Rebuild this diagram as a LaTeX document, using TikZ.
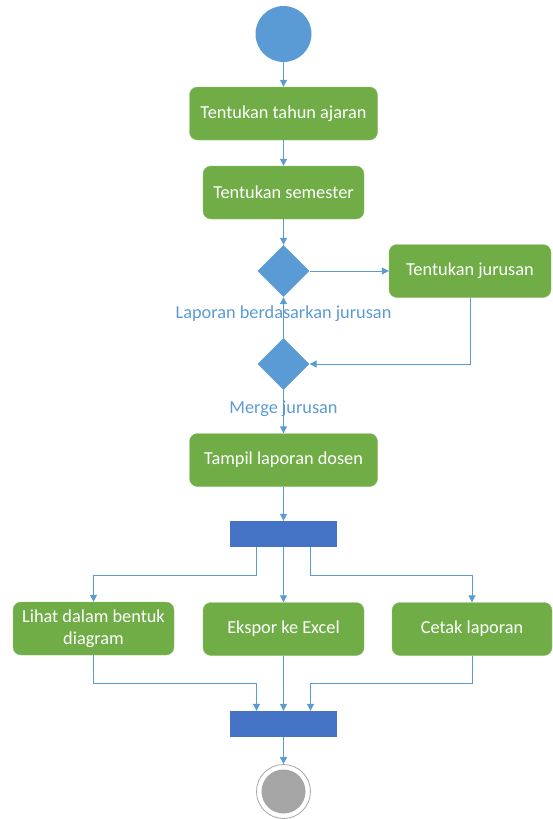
\documentclass[tikz,border=0pt]{standalone}
\usepackage{fontspec}
\setmainfont{Carlito}
\usetikzlibrary{shapes.geometric,arrows.meta}
\definecolor{hijau}{HTML}{70AD47}
\definecolor{biru}{HTML}{5B9BD5}
\definecolor{batang}{HTML}{4472C4}
\definecolor{abu}{HTML}{A5A5A5}

\begin{document}
\begin{tikzpicture}[x=1pt,y=-1pt,
    aktivitas/.style={rectangle,rounded corners=8pt,fill=hijau,draw=hijau!80!white,text=white,
      font=\fontsize{18.3}{22}\selectfont,minimum height=53pt,align=center,inner sep=0pt},
    keputusan/.style={diamond,fill=biru,minimum width=52pt,minimum height=52pt,inner sep=0pt},
    batangsinkron/.style={rectangle,fill=batang,minimum width=107pt,minimum height=26pt,inner sep=0pt},
    panah/.style={draw=biru,line width=1pt,-{Triangle[length=7pt,width=7pt]}},
    label/.style={text=biru,font=\fontsize{18.3}{22}\selectfont,inner sep=0pt}]
    \useasboundingbox (0,0) rectangle (553,819);

    \node[circle,fill=biru,minimum size=56pt,inner sep=0pt] (mulai) at (283.5,34) {};
    \node[aktivitas,minimum width=188pt] (tahun) at (283.5,113.5) {Tentukan tahun ajaran};
      \draw[panah] (mulai) -- (tahun);

    \node[aktivitas,minimum width=161pt] (semester) at (283.5,192.5) {Tentukan semester};
      \draw[panah] (tahun) -- (semester);

    \node[keputusan] (pilih) at (283.5,271) {};
      \draw[panah] (semester) -- (pilih);

    \node[aktivitas,minimum width=162pt] (jurusan) at (470,271) {Tentukan jurusan};
      \draw[panah] (pilih) -- (jurusan);

    \node[keputusan] (gabung) at (283.5,364) {};
      \draw[panah] (jurusan.south) |- (gabung.east);
      \draw[panah] (gabung) -- (pilih);

    \node[label] (lpilih) at (283.5,314) {Laporan berdasarkan jurusan};
    \node[label] (lgabung) at (283.5,409) {Merge jurusan};

    \node[aktivitas,minimum width=188pt] (tampil) at (283.5,460) {Tampil laporan dosen};
      \draw[panah] (gabung) -- (tampil);

    \node[batangsinkron] (cabang) at (283.5,534) {};
      \draw[panah] (tampil) -- (cabang);

    \node[aktivitas,minimum width=161pt] (diagram) at (93.5,628.5) {Lihat dalam bentuk\\diagram};
    \node[aktivitas,minimum width=161pt] (ekspor) at (283.5,629) {Ekspor ke Excel};
    \node[aktivitas,minimum width=160pt] (cetak) at (472,629) {Cetak laporan};
      \draw[panah] ([xshift=-27pt]cabang.south) -- ++(0,28) -| (diagram.north);
      \draw[panah] (cabang) -- (ekspor);
      \draw[panah] ([xshift=27pt]cabang.south) -- ++(0,28) -| (cetak.north);

    \node[batangsinkron] (gabungan) at (283.5,724) {};
      \draw[panah] (diagram.south) -- ++(0,28) -| ([xshift=-27pt]gabungan.north);
      \draw[panah] (ekspor) -- (gabungan);
      \draw[panah] (cetak.south) -- ++(0,28) -| ([xshift=27pt]gabungan.north);

    \node[circle,draw=abu,line width=0.8pt,fill=white,minimum size=54pt,inner sep=0pt] (selesai) at (283.5,791.5) {};
    \node[circle,fill=abu,minimum size=44pt,inner sep=0pt] (selesaidalam) at (selesai) {};
      \draw[panah] (gabungan) -- (selesai);
\end{tikzpicture}
\end{document}
